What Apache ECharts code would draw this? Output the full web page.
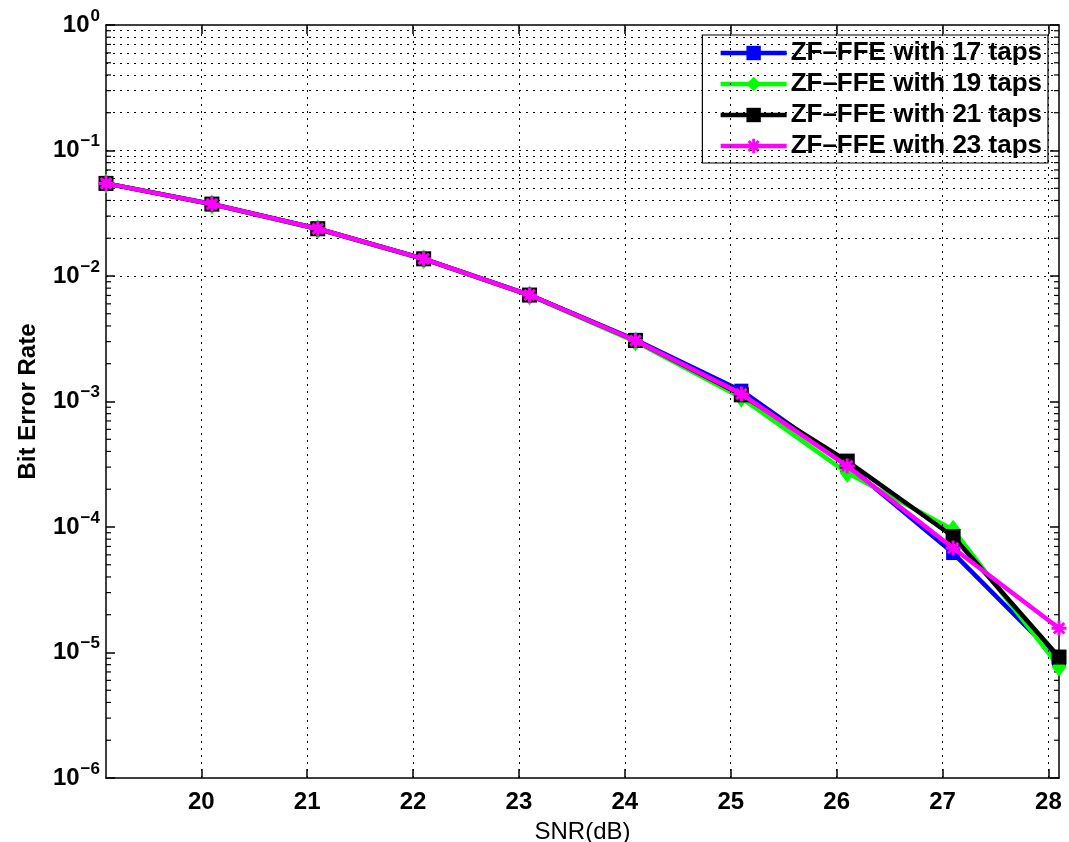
<!DOCTYPE html>
<html>
<head>
<meta charset="utf-8">
<script src="https://cdn.jsdelivr.net/npm/echarts@6/dist/echarts.min.js"></script>
<style>
html,body{margin:0;padding:0;background:#fff;}
#chart{width:1069px;height:842px;}
</style>
</head>
<body>
<div id="chart"></div>
<script>
// ---- data ----
const snr = [19.1, 20.1, 21.1, 22.1, 23.1, 24.1, 25.1, 26.1, 27.1, 28.1];
const ber17 = [0.0547, 0.0375, 0.0238, 0.0137, 0.00706, 0.00310, 0.00122, 3.12e-4, 6.2e-5, 8.8e-6];
const ber19 = [0.0547, 0.0372, 0.0236, 0.0136, 0.00700, 0.00300, 0.00107, 2.70e-4, 9.5e-5, 7.7e-6];
const ber21 = [0.0547, 0.0374, 0.0238, 0.0137, 0.00705, 0.00306, 0.00113, 3.35e-4, 8.4e-5, 9.2e-6];
const ber23 = [0.0547, 0.0374, 0.0238, 0.0137, 0.00705, 0.00306, 0.00115, 3.06e-4, 6.8e-5, 1.56e-5];
const seriesNames = ['ZF\u2013FFE with 17 taps', 'ZF\u2013FFE with 19 taps', 'ZF\u2013FFE with 21 taps', 'ZF\u2013FFE with 23 taps'];
const xTicks = [20, 21, 22, 23, 24, 25, 26, 27, 28];
const xMin = 19.1, xMax = 28.1;
const yMin = 1e-6, yMax = 1;
const decades = [-6, -5, -4, -3, -2, -1];
const minorMult = [2, 3, 4, 5, 6, 7, 8, 9];

const FONT = '"Liberation Sans", Helvetica, Arial, sans-serif';

// grid line values (from axis scale)
const yGridMinor = [];
decades.forEach(e => minorMult.forEach(k => yGridMinor.push(k * Math.pow(10, e))));
const yGridMajor = decades.slice(1).map(e => Math.pow(10, e));

const gridStyle = { color: '#000', width: 1, type: [2, 5] };
const markLineData = []
  .concat(xTicks.map(v => ({ xAxis: v })))
  .concat(yGridMajor.map(v => ({ yAxis: v })))
  .concat(yGridMinor.map(v => ({ yAxis: v })));

function pairs(ys) { return snr.map((x, i) => [x, ys[i]]); }

const asterisk = 'path://M-1,-5L1,-5L1,5L-1,5Z M-5,-1L5,-1L5,1L-5,1Z M-2.8,-4.2L4.2,2.8L2.8,4.2L-4.2,-2.8Z M2.8,-4.2L4.2,-2.8L-2.8,4.2L-4.2,2.8Z';

const chart = echarts.init(document.getElementById('chart'), null, { renderer: 'canvas' });

const yLabel = {
  formatter: function (v) {
    const e = Math.round(Math.log10(v));
    return '{b|10}{s|' + (e < 0 ? '\u2212' + (-e) : e) + '}';
  },
  margin: 6,
  rich: {
    b: { fontFamily: FONT, fontWeight: 'bold', fontSize: 24, color: '#000' },
    s: { fontFamily: FONT, fontWeight: 'bold', fontSize: 17, color: '#000', padding: [0, 0, 18, 1] }
  }
};

const option = {
  backgroundColor: '#fff',
  animation: false,
  textStyle: { fontFamily: FONT },
  grid: { left: 106, top: 25, right: 10, bottom: 64, show: false, outerBoundsMode: 'none', containLabel: false },
  legend: {
    data: seriesNames,
    orient: 'vertical',
    right: 21,
    top: 35,
    padding: [5, 6, 4, 16],
    itemGap: 5,
    itemWidth: 66,
    itemHeight: 18,
    backgroundColor: '#fff',
    borderColor: '#000',
    borderWidth: 1.2,
    borderRadius: 0,
    lineStyle: { width: 4.5 },
    textStyle: { fontFamily: FONT, fontWeight: 'bold', fontSize: 26, color: '#000', padding: [0, 0, 0, -1] }
  },
  xAxis: [{
    type: 'value', min: xMin, max: xMax, position: 'bottom',
    name: 'SNR(dB)', nameLocation: 'middle', nameGap: 42,
    nameTextStyle: { fontFamily: FONT, fontSize: 24, color: '#000' },
    axisLine: { show: true, lineStyle: { color: '#000', width: 1.5 } },
    axisTick: { show: true, inside: true, length: 9, customValues: xTicks, lineStyle: { color: '#000', width: 1.5 } },
    axisLabel: { show: true, customValues: xTicks, margin: 12, fontFamily: FONT, fontWeight: 'bold', fontSize: 24, color: '#000' },
    splitLine: { show: false }
  }, {
    type: 'value', min: xMin, max: xMax, position: 'top',
    axisLine: { show: true, onZero: false, lineStyle: { color: '#000', width: 1.5 } },
    axisTick: { show: true, inside: true, length: 9, customValues: xTicks, lineStyle: { color: '#000', width: 1.5 } },
    axisLabel: { show: false },
    splitLine: { show: false }
  }],
  yAxis: [{
    type: 'log', logBase: 10, min: yMin, max: yMax, position: 'left',
    name: 'Bit Error Rate', nameLocation: 'middle', nameGap: 66,
    nameTextStyle: { fontFamily: FONT, fontWeight: 'bold', fontSize: 24, color: '#000' },
    axisLine: { show: true, lineStyle: { color: '#000', width: 1.5 } },
    axisTick: { show: true, inside: true, length: 9, lineStyle: { color: '#000', width: 1.5 } },
    axisLabel: yLabel,
    splitLine: { show: false }
  }, {
    type: 'log', logBase: 10, min: yMin, max: yMax, position: 'right',
    axisLine: { show: true, onZero: false, lineStyle: { color: '#000', width: 1.5 } },
    axisTick: { show: true, inside: true, length: 9, lineStyle: { color: '#000', width: 1.5 } },
    axisLabel: { show: false },
    splitLine: { show: false }
  }],
  series: [
    {
      name: 'grid',
      type: 'custom',
      z: 1,
      silent: true,
      data: yGridMinor.map(v => [xMin, v]),
      renderItem: function (params, api) {
        const cs = params.coordSys;
        const y = api.coord([api.value(0), api.value(1)])[1];
        const st = { stroke: '#000', lineWidth: 1.2 };
        return {
          type: 'group',
          children: [
            { type: 'line', shape: { x1: cs.x, y1: y, x2: cs.x + 5, y2: y }, style: st },
            { type: 'line', shape: { x1: cs.x + cs.width - 5, y1: y, x2: cs.x + cs.width, y2: y }, style: st }
          ]
        };
      },
      markLine: {
        silent: true, symbol: ['none', 'none'], label: { show: false },
        lineStyle: gridStyle, animation: false,
        data: markLineData
      }
    },
    {
      name: seriesNames[0], type: 'line', z: 3, data: pairs(ber17),
      lineStyle: { color: '#0000ff', width: 4.5 },
      itemStyle: { color: '#0000ff' },
      symbol: 'rect', symbolSize: 14, showAllSymbol: true
    },
    {
      name: seriesNames[1], type: 'line', z: 4, data: pairs(ber19),
      lineStyle: { color: '#00ff00', width: 4.5 },
      itemStyle: { color: '#00ff00' },
      symbol: 'diamond', symbolSize: [15, 20], showAllSymbol: true
    },
    {
      name: seriesNames[2], type: 'line', z: 5, data: pairs(ber21),
      lineStyle: { color: '#000000', width: 4.5 },
      itemStyle: { color: '#000000' },
      symbol: 'rect', symbolSize: 15, showAllSymbol: true
    },
    {
      name: seriesNames[3], type: 'line', z: 6, data: pairs(ber23),
      lineStyle: { color: '#ff00ff', width: 4.5 },
      itemStyle: { color: '#ff00ff' },
      symbol: asterisk, symbolSize: 15, showAllSymbol: true
    }
  ]
};
chart.setOption(option);
</script>
</body>
</html>
